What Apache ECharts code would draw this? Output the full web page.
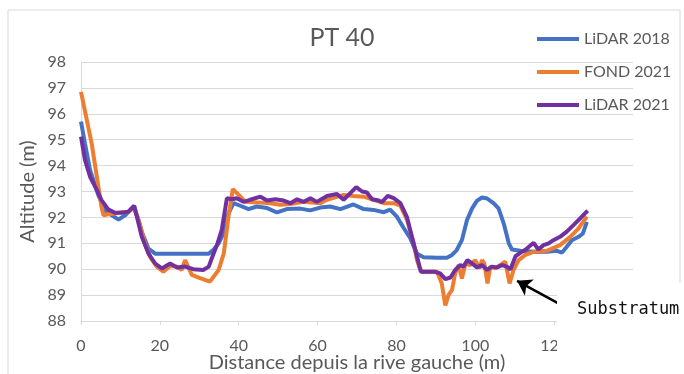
<!DOCTYPE html>
<html>
<head>
<meta charset="utf-8">
<script src="https://cdn.jsdelivr.net/npm/echarts@6/dist/echarts.min.js"></script>
<style>
  html, body { margin: 0; padding: 0; background: #fff; }
  #chart { width: 684px; height: 374px; }
</style>
</head>
<body>
<div id="chart"></div>
<script>
// LiDAR 2018
const lidar2018Dist = [0, 1, 2.3, 4.4, 6.1, 7.8, 9.5, 11.2, 13.3, 14.6, 15.4, 17.1, 18.8, 25, 32.4, 33.6, 34.9, 36.2, 37.4, 38.7,
  40.4, 42.5, 44.6, 47.2, 49.7, 52.2, 55.6, 58.1, 60.7, 63.2, 65.8, 69.1, 71.7, 74.2, 76.8, 78.4, 80.1, 81.8, 83.5, 85.2,
  86.9, 90.3, 92.8, 94.1, 95.3, 96.6, 97.9, 99.2, 100.4, 101.7, 103, 104.7, 105.9, 107.2, 108.5, 109.3, 111.4, 114.8, 118.1, 120.7,
  122, 123.2, 124.5, 126.2, 127.3, 128.3];
const lidar2018Alt = [95.7, 94.86, 93.83, 92.86, 92.28, 92.08, 91.92, 92.08, 92.41, 91.9, 91.45, 90.8, 90.6, 90.6, 90.6, 90.75, 91.0, 91.4, 92.16, 92.55,
  92.45, 92.32, 92.42, 92.36, 92.19, 92.32, 92.34, 92.27, 92.38, 92.42, 92.32, 92.5, 92.32, 92.29, 92.2, 92.3, 92.03, 91.6, 91.2, 90.6,
  90.46, 90.44, 90.44, 90.55, 90.74, 91.12, 91.9, 92.35, 92.64, 92.77, 92.73, 92.54, 92.35, 91.77, 91.0, 90.76, 90.71, 90.67, 90.67, 90.71,
  90.64, 90.87, 91.12, 91.25, 91.38, 91.83];

// FOND 2021
const fond2021Dist = [0, 2.7, 5.2, 5.7, 6.9, 8.6, 10.3, 12, 13.5, 15, 16, 17.5, 19.2, 20.9, 22.6, 24.3, 25.5, 26.4, 28.1, 30.2,
  32.7, 33.2, 34.9, 36.2, 37.4, 38.5, 40, 41.7, 44.6, 48, 50.5, 53.1, 56.5, 60.7, 62.4, 66.6, 69.1, 71.7, 74.2, 76.8,
  79.3, 81, 82.7, 84.4, 85.2, 85.9, 86.5, 90.3, 91.5, 92.4, 93.2, 94.1, 94.9, 95.8, 96.6, 97.5, 98.7, 100, 101.1, 101.7,
  102.3, 103.1, 103.8, 105.1, 106.3, 107.6, 108.7, 109.7, 111, 112.7, 114.8, 118.1, 121.5, 124.1, 126.2, 128.3];
const fond2021Alt = [96.85, 94.86, 92.41, 92.08, 92.12, 92.15, 92.2, 92.2, 92.4, 91.7, 91.1, 90.48, 90.1, 89.9, 90.12, 90.1, 89.97, 90.35, 89.78, 89.66,
  89.52, 89.5, 89.97, 90.6, 92.03, 93.09, 92.87, 92.6, 92.58, 92.55, 92.49, 92.52, 92.6, 92.55, 92.68, 92.87, 92.83, 92.8, 92.68, 92.55,
  92.55, 92.45, 91.9, 91.0, 90.36, 90.04, 89.9, 89.9, 89.45, 88.6, 89.0, 89.2, 89.84, 90.16, 89.64, 90.22, 90.16, 90.35, 90.03, 90.35,
  90.22, 89.45, 90.1, 90.03, 90.16, 90.29, 89.45, 89.97, 90.35, 90.55, 90.67, 90.71, 90.93, 91.25, 91.58, 92.03];

// LiDAR 2021
const lidar2021Dist = [0, 1, 2.3, 4, 5.2, 6.9, 8.6, 10.3, 12, 13.5, 15.4, 17.1, 18.8, 20.5, 22.6, 24.3, 26.4, 28.5, 31, 32.4,
  33.2, 34.5, 35.7, 37, 38.3, 39.5, 41.2, 42.9, 45.5, 47.2, 49.3, 51.4, 53.1, 54.8, 56.5, 58.2, 59.8, 62.4, 64.9, 66.6,
  68.3, 69.8, 71.3, 72.5, 73.8, 75.5, 76.3, 77.8, 79.3, 81, 82.7, 83.9, 85.2, 86.2, 89.8, 91.1, 92.4, 93.7, 94.9, 96.2,
  97, 98, 99.2, 100.4, 101.7, 103, 104.2, 105.5, 106.8, 108, 108.9, 110.2, 111.4, 112.7, 114.8, 116, 117.3, 118.6, 119.8, 121.5,
  123.2, 124.9, 126.6, 128.5];
const lidar2021Alt = [95.12, 94.22, 93.57, 93.06, 92.67, 92.31, 92.18, 92.18, 92.22, 92.45, 91.26, 90.61, 90.22, 90.03, 90.22, 90.07, 90.1, 90.0, 89.97, 90.1,
  90.43, 90.94, 91.52, 92.74, 92.7, 92.74, 92.6, 92.68, 92.8, 92.65, 92.7, 92.65, 92.55, 92.7, 92.6, 92.74, 92.6, 92.83, 92.9, 92.68,
  92.94, 93.17, 93.0, 92.96, 92.7, 92.65, 92.59, 92.83, 92.74, 92.55, 92.0, 91.26, 90.5, 89.9, 89.9, 89.84, 89.62, 89.68, 89.97, 90.16,
  90.1, 90.35, 90.22, 90.07, 90.16, 89.97, 90.1, 90.07, 90.16, 90.1, 89.99, 90.5, 90.63, 90.75, 91.02, 90.76, 90.93, 91.0, 91.12, 91.25,
  91.45, 91.7, 91.96, 92.26];

// annotation "Substratum" arrow (data coordinates)
const arrowFrom = [122, 88.6];
const arrowTo = [110.6, 89.55];

const zip = (xs, ys) => xs.map((x, i) => [x, ys[i]]);

const chart = echarts.init(document.getElementById('chart'));
const gray = '#595959';
const font = 'Lato';

chart.setOption({
  animation: false,
  textStyle: { fontFamily: font },
  title: {
    text: 'PT 40',
    left: 'center',
    top: 20,
    textStyle: { fontSize: 25, fontWeight: 'normal', color: gray, fontFamily: font },
  },
  legend: {
    orient: 'vertical',
    left: 532,
    top: 26,
    icon: 'rect',
    itemWidth: 42,
    itemHeight: 4,
    itemGap: 17,
    textStyle: { fontSize: 16, color: gray, fontFamily: font },
  },
  grid: { left: 81, right: 51, top: 62, bottom: 53, containLabel: false, outerBoundsMode: 'none' },
  xAxis: {
    type: 'value',
    min: 0,
    max: 140,
    interval: 20,
    name: 'Distance depuis la rive gauche (m)',
    nameLocation: 'middle',
    nameMoveOverlap: false,
    nameGap: 32,
    nameTextStyle: { fontSize: 20, color: gray },
    axisLine: { lineStyle: { color: '#d9d9d9' } },
    axisTick: { show: true, length: 4, lineStyle: { color: '#d9d9d9' } },
    axisLabel: { fontSize: 16, color: gray, margin: 17 },
    splitLine: { show: false },
  },
  yAxis: {
    type: 'value',
    min: 88,
    max: 98,
    interval: 1,
    name: 'Altitude (m)',
    nameLocation: 'middle',
    nameMoveOverlap: false,
    nameGap: 43,
    nameTextStyle: { fontSize: 20, color: gray },
    axisLine: { show: true, lineStyle: { color: '#d9d9d9' } },
    axisTick: { show: false },
    axisLabel: { fontSize: 16, color: gray, margin: 15 },
    splitLine: { lineStyle: { color: '#d9d9d9', width: 1 } },
  },
  graphic: [
    {
      type: 'rect',
      z: 0,
      shape: { x: 8, y: 10, width: 672, height: 370 },
      style: { fill: 'none', stroke: '#d9d9d9', lineWidth: 1 },
    },
    {
      type: 'rect',
      z: 10,
      shape: { x: 557, y: 283, width: 127, height: 91 },
      style: { fill: '#fff' },
    },
    {
      type: 'text',
      z: 11,
      left: 577,
      top: 301,
      style: { text: 'Substratum', fill: '#111', font: '17px "DejaVu Sans Mono"' },
    },
  ],
  series: [
    {
      name: 'LiDAR 2018',
      type: 'line',
      z: 20,
      symbol: 'none',
      data: zip(lidar2018Dist, lidar2018Alt),
      lineStyle: { width: 4, color: '#4472c4' },
      itemStyle: { color: '#4472c4' },
    },
    {
      name: 'FOND 2021',
      type: 'line',
      z: 21,
      symbol: 'none',
      data: zip(fond2021Dist, fond2021Alt),
      lineStyle: { width: 4, color: '#ed7d31' },
      itemStyle: { color: '#ed7d31' },
    },
    {
      name: 'LiDAR 2021',
      type: 'line',
      z: 22,
      symbol: 'none',
      data: zip(lidar2021Dist, lidar2021Alt),
      lineStyle: { width: 4, color: '#7030a0' },
      itemStyle: { color: '#7030a0' },
      markLine: {
        silent: true,
        symbol: ['none', 'arrow'],
        symbolSize: 14,
        label: { show: false },
        lineStyle: { color: '#000', width: 2.5, type: 'solid' },
        data: [[{ coord: arrowFrom }, { coord: arrowTo }]],
      },
    },
  ],
});
</script>
</body>
</html>
